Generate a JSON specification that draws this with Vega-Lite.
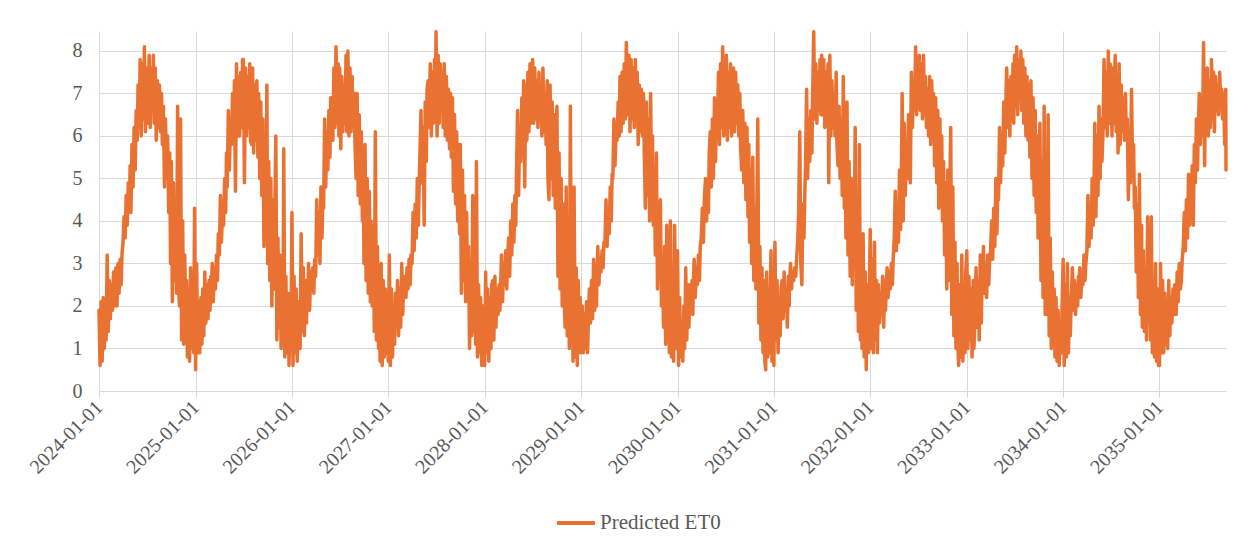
{
"$schema": "https://vega.github.io/schema/vega-lite/v6.json",
"width": 1127,
"height": 360,
"autosize": {"type": "none"},
"padding": {"left": 99, "top": 31, "right": 32, "bottom": 153},
"background": "white",
"config": {"view": {"stroke": null}, "font": "Liberation Serif", "axis": {"labelFont": "Liberation Serif"}, "legend": {"labelFont": "Liberation Serif"}},
"data": {"values": [
{"d":"2024-01-01","v":1.9},{"d":"2024-01-05","v":0.6},{"d":"2024-01-09","v":2.1},{"d":"2024-01-13","v":0.7},{"d":"2024-01-17","v":2.2},{"d":"2024-01-21","v":1.0},{"d":"2024-01-25","v":2.0},{"d":"2024-01-28","v":1.2},
{"d":"2024-02-01","v":3.2},{"d":"2024-02-05","v":1.4},{"d":"2024-02-09","v":2.6},{"d":"2024-02-13","v":1.7},{"d":"2024-02-17","v":2.5},{"d":"2024-02-21","v":1.9},{"d":"2024-02-25","v":2.8},{"d":"2024-02-28","v":2.0},
{"d":"2024-03-01","v":2.1},{"d":"2024-03-05","v":2.9},{"d":"2024-03-09","v":2.0},{"d":"2024-03-13","v":3.0},{"d":"2024-03-17","v":2.3},{"d":"2024-03-21","v":3.1},{"d":"2024-03-25","v":2.5},{"d":"2024-03-28","v":3.2},
{"d":"2024-04-01","v":3.5},{"d":"2024-04-05","v":4.1},{"d":"2024-04-09","v":3.6},{"d":"2024-04-13","v":4.6},{"d":"2024-04-17","v":3.9},{"d":"2024-04-21","v":4.9},{"d":"2024-04-25","v":4.2},{"d":"2024-04-28","v":5.3},
{"d":"2024-05-01","v":4.2},{"d":"2024-05-05","v":5.8},{"d":"2024-05-09","v":4.8},{"d":"2024-05-13","v":6.2},{"d":"2024-05-17","v":5.2},{"d":"2024-05-21","v":6.6},{"d":"2024-05-25","v":5.9},{"d":"2024-05-28","v":7.2},
{"d":"2024-06-01","v":6.2},{"d":"2024-06-05","v":7.8},{"d":"2024-06-09","v":6.0},{"d":"2024-06-13","v":7.7},{"d":"2024-06-17","v":6.4},{"d":"2024-06-21","v":8.1},{"d":"2024-06-25","v":6.1},{"d":"2024-06-28","v":7.6},
{"d":"2024-07-01","v":7.5},{"d":"2024-07-05","v":6.3},{"d":"2024-07-09","v":7.9},{"d":"2024-07-13","v":6.2},{"d":"2024-07-17","v":7.6},{"d":"2024-07-21","v":6.6},{"d":"2024-07-25","v":7.9},{"d":"2024-07-28","v":6.3},
{"d":"2024-08-01","v":7.6},{"d":"2024-08-05","v":5.9},{"d":"2024-08-09","v":7.3},{"d":"2024-08-13","v":6.2},{"d":"2024-08-17","v":7.2},{"d":"2024-08-21","v":6.1},{"d":"2024-08-25","v":7.0},{"d":"2024-08-28","v":5.8},
{"d":"2024-09-01","v":6.7},{"d":"2024-09-05","v":4.8},{"d":"2024-09-09","v":6.4},{"d":"2024-09-13","v":5.0},{"d":"2024-09-17","v":6.0},{"d":"2024-09-21","v":4.2},{"d":"2024-09-25","v":5.6},{"d":"2024-09-28","v":3.0},
{"d":"2024-10-01","v":5.4},{"d":"2024-10-05","v":2.1},{"d":"2024-10-09","v":4.9},{"d":"2024-10-13","v":2.6},{"d":"2024-10-17","v":4.3},{"d":"2024-10-21","v":2.3},{"d":"2024-10-25","v":6.7},{"d":"2024-10-28","v":2.5},
{"d":"2024-11-01","v":2.0},{"d":"2024-11-05","v":6.4},{"d":"2024-11-09","v":1.2},{"d":"2024-11-13","v":4.0},{"d":"2024-11-17","v":1.1},{"d":"2024-11-21","v":3.2},{"d":"2024-11-25","v":1.4},{"d":"2024-11-28","v":2.6},
{"d":"2024-12-01","v":0.8},{"d":"2024-12-05","v":2.4},{"d":"2024-12-09","v":0.7},{"d":"2024-12-13","v":2.9},{"d":"2024-12-17","v":1.0},{"d":"2024-12-21","v":2.2},{"d":"2024-12-25","v":0.9},{"d":"2024-12-28","v":4.3},
{"d":"2025-01-01","v":0.5},{"d":"2025-01-05","v":3.0},{"d":"2025-01-09","v":0.9},{"d":"2025-01-13","v":2.1},{"d":"2025-01-17","v":0.9},{"d":"2025-01-21","v":2.2},{"d":"2025-01-25","v":1.1},{"d":"2025-01-28","v":2.4},
{"d":"2025-02-01","v":1.3},{"d":"2025-02-05","v":2.8},{"d":"2025-02-09","v":1.6},{"d":"2025-02-13","v":2.5},{"d":"2025-02-17","v":1.7},{"d":"2025-02-21","v":2.6},{"d":"2025-02-25","v":1.9},{"d":"2025-02-28","v":2.7},
{"d":"2025-03-01","v":2.2},{"d":"2025-03-05","v":3.0},{"d":"2025-03-09","v":2.1},{"d":"2025-03-13","v":2.9},{"d":"2025-03-17","v":2.4},{"d":"2025-03-21","v":3.2},{"d":"2025-03-25","v":2.6},{"d":"2025-03-28","v":3.7},
{"d":"2025-04-01","v":3.2},{"d":"2025-04-05","v":4.6},{"d":"2025-04-09","v":3.5},{"d":"2025-04-13","v":4.3},{"d":"2025-04-17","v":3.9},{"d":"2025-04-21","v":5.0},{"d":"2025-04-25","v":4.2},{"d":"2025-04-28","v":5.6},
{"d":"2025-05-01","v":4.8},{"d":"2025-05-05","v":6.6},{"d":"2025-05-09","v":5.2},{"d":"2025-05-13","v":6.3},{"d":"2025-05-17","v":5.8},{"d":"2025-05-21","v":7.0},{"d":"2025-05-25","v":5.9},{"d":"2025-05-28","v":7.3},
{"d":"2025-06-01","v":4.7},{"d":"2025-06-05","v":7.7},{"d":"2025-06-09","v":6.0},{"d":"2025-06-13","v":7.4},{"d":"2025-06-17","v":6.0},{"d":"2025-06-21","v":7.5},{"d":"2025-06-25","v":6.2},{"d":"2025-06-28","v":7.8},
{"d":"2025-07-01","v":7.8},{"d":"2025-07-05","v":4.9},{"d":"2025-07-09","v":7.6},{"d":"2025-07-13","v":6.0},{"d":"2025-07-17","v":7.4},{"d":"2025-07-21","v":6.2},{"d":"2025-07-25","v":7.7},{"d":"2025-07-28","v":5.9},
{"d":"2025-08-01","v":5.8},{"d":"2025-08-05","v":7.6},{"d":"2025-08-09","v":5.6},{"d":"2025-08-13","v":7.2},{"d":"2025-08-17","v":5.9},{"d":"2025-08-21","v":7.3},{"d":"2025-08-25","v":5.5},{"d":"2025-08-28","v":7.0},
{"d":"2025-09-01","v":5.0},{"d":"2025-09-05","v":6.8},{"d":"2025-09-09","v":4.6},{"d":"2025-09-13","v":6.4},{"d":"2025-09-17","v":3.4},{"d":"2025-09-21","v":6.0},{"d":"2025-09-25","v":4.2},{"d":"2025-09-28","v":7.2},
{"d":"2025-10-01","v":3.0},{"d":"2025-10-05","v":5.4},{"d":"2025-10-09","v":2.6},{"d":"2025-10-13","v":5.0},{"d":"2025-10-17","v":2.0},{"d":"2025-10-21","v":4.5},{"d":"2025-10-25","v":2.4},{"d":"2025-10-28","v":4.1},
{"d":"2025-11-01","v":6.0},{"d":"2025-11-05","v":1.2},{"d":"2025-11-09","v":3.6},{"d":"2025-11-13","v":1.5},{"d":"2025-11-17","v":3.2},{"d":"2025-11-21","v":1.0},{"d":"2025-11-25","v":2.8},{"d":"2025-11-28","v":1.3},
{"d":"2025-12-01","v":5.7},{"d":"2025-12-05","v":0.8},{"d":"2025-12-09","v":2.7},{"d":"2025-12-13","v":0.9},{"d":"2025-12-17","v":2.3},{"d":"2025-12-21","v":0.6},{"d":"2025-12-25","v":2.0},{"d":"2025-12-28","v":1.0},
{"d":"2026-01-01","v":4.2},{"d":"2026-01-05","v":0.6},{"d":"2026-01-09","v":2.7},{"d":"2026-01-13","v":0.9},{"d":"2026-01-17","v":2.4},{"d":"2026-01-21","v":0.7},{"d":"2026-01-25","v":2.1},{"d":"2026-01-28","v":1.0},
{"d":"2026-02-01","v":1.0},{"d":"2026-02-05","v":3.7},{"d":"2026-02-09","v":1.4},{"d":"2026-02-13","v":2.9},{"d":"2026-02-17","v":1.3},{"d":"2026-02-21","v":2.6},{"d":"2026-02-25","v":1.6},{"d":"2026-02-28","v":2.5},
{"d":"2026-03-01","v":2.0},{"d":"2026-03-05","v":3.0},{"d":"2026-03-09","v":1.9},{"d":"2026-03-13","v":2.8},{"d":"2026-03-17","v":2.4},{"d":"2026-03-21","v":2.9},{"d":"2026-03-25","v":2.3},{"d":"2026-03-28","v":3.1},
{"d":"2026-04-01","v":2.7},{"d":"2026-04-05","v":4.5},{"d":"2026-04-09","v":3.2},{"d":"2026-04-13","v":4.2},{"d":"2026-04-17","v":3.0},{"d":"2026-04-21","v":4.8},{"d":"2026-04-25","v":3.6},{"d":"2026-04-28","v":4.6},
{"d":"2026-05-01","v":4.3},{"d":"2026-05-05","v":6.4},{"d":"2026-05-09","v":4.8},{"d":"2026-05-13","v":6.1},{"d":"2026-05-17","v":5.2},{"d":"2026-05-21","v":6.6},{"d":"2026-05-25","v":5.5},{"d":"2026-05-28","v":6.9},
{"d":"2026-06-01","v":6.9},{"d":"2026-06-05","v":5.9},{"d":"2026-06-09","v":7.6},{"d":"2026-06-13","v":6.2},{"d":"2026-06-17","v":8.1},{"d":"2026-06-21","v":6.3},{"d":"2026-06-25","v":7.7},{"d":"2026-06-28","v":6.0},
{"d":"2026-07-01","v":7.6},{"d":"2026-07-05","v":5.7},{"d":"2026-07-09","v":7.4},{"d":"2026-07-13","v":6.1},{"d":"2026-07-17","v":7.2},{"d":"2026-07-21","v":6.3},{"d":"2026-07-25","v":7.9},{"d":"2026-07-28","v":6.1},
{"d":"2026-08-01","v":8.0},{"d":"2026-08-05","v":6.0},{"d":"2026-08-09","v":7.6},{"d":"2026-08-13","v":6.1},{"d":"2026-08-17","v":7.4},{"d":"2026-08-21","v":6.2},{"d":"2026-08-25","v":7.0},{"d":"2026-08-28","v":5.8},
{"d":"2026-09-01","v":5.0},{"d":"2026-09-05","v":7.0},{"d":"2026-09-09","v":4.6},{"d":"2026-09-13","v":6.5},{"d":"2026-09-17","v":4.4},{"d":"2026-09-21","v":6.1},{"d":"2026-09-25","v":4.0},{"d":"2026-09-28","v":5.6},
{"d":"2026-10-01","v":3.0},{"d":"2026-10-05","v":5.8},{"d":"2026-10-09","v":2.6},{"d":"2026-10-13","v":5.0},{"d":"2026-10-17","v":2.3},{"d":"2026-10-21","v":4.7},{"d":"2026-10-25","v":2.1},{"d":"2026-10-28","v":4.0},
{"d":"2026-11-01","v":2.0},{"d":"2026-11-05","v":3.9},{"d":"2026-11-09","v":1.4},{"d":"2026-11-13","v":6.1},{"d":"2026-11-17","v":1.2},{"d":"2026-11-21","v":3.4},{"d":"2026-11-25","v":1.0},{"d":"2026-11-28","v":2.8},
{"d":"2026-12-01","v":0.7},{"d":"2026-12-05","v":3.0},{"d":"2026-12-09","v":0.6},{"d":"2026-12-13","v":2.6},{"d":"2026-12-17","v":0.8},{"d":"2026-12-21","v":2.4},{"d":"2026-12-25","v":0.9},{"d":"2026-12-28","v":2.0},
{"d":"2027-01-01","v":0.7},{"d":"2027-01-05","v":3.2},{"d":"2027-01-09","v":0.6},{"d":"2027-01-13","v":2.4},{"d":"2027-01-17","v":0.8},{"d":"2027-01-21","v":2.0},{"d":"2027-01-25","v":1.1},{"d":"2027-01-28","v":2.3},
{"d":"2027-02-01","v":1.6},{"d":"2027-02-05","v":2.6},{"d":"2027-02-09","v":1.3},{"d":"2027-02-13","v":2.4},{"d":"2027-02-17","v":1.5},{"d":"2027-02-21","v":3.0},{"d":"2027-02-25","v":1.8},{"d":"2027-02-28","v":2.6},
{"d":"2027-03-01","v":2.3},{"d":"2027-03-05","v":2.7},{"d":"2027-03-09","v":2.2},{"d":"2027-03-13","v":2.9},{"d":"2027-03-17","v":2.4},{"d":"2027-03-21","v":3.1},{"d":"2027-03-25","v":2.5},{"d":"2027-03-28","v":3.2},
{"d":"2027-04-01","v":3.0},{"d":"2027-04-05","v":4.2},{"d":"2027-04-09","v":3.3},{"d":"2027-04-13","v":4.4},{"d":"2027-04-17","v":3.6},{"d":"2027-04-21","v":5.0},{"d":"2027-04-25","v":3.9},{"d":"2027-04-28","v":4.8},
{"d":"2027-05-01","v":5.6},{"d":"2027-05-05","v":6.6},{"d":"2027-05-09","v":4.9},{"d":"2027-05-13","v":6.2},{"d":"2027-05-17","v":3.9},{"d":"2027-05-21","v":6.8},{"d":"2027-05-25","v":5.4},{"d":"2027-05-28","v":7.1},
{"d":"2027-06-01","v":7.3},{"d":"2027-06-05","v":6.2},{"d":"2027-06-09","v":7.7},{"d":"2027-06-13","v":6.0},{"d":"2027-06-17","v":7.5},{"d":"2027-06-21","v":6.3},{"d":"2027-06-25","v":7.8},{"d":"2027-06-28","v":6.4},
{"d":"2027-07-01","v":8.45},{"d":"2027-07-05","v":6.0},{"d":"2027-07-09","v":7.9},{"d":"2027-07-13","v":6.3},{"d":"2027-07-17","v":7.7},{"d":"2027-07-21","v":6.6},{"d":"2027-07-25","v":7.5},{"d":"2027-07-28","v":6.2},
{"d":"2027-08-01","v":7.7},{"d":"2027-08-05","v":6.0},{"d":"2027-08-09","v":7.4},{"d":"2027-08-13","v":5.9},{"d":"2027-08-17","v":7.1},{"d":"2027-08-21","v":5.7},{"d":"2027-08-25","v":7.0},{"d":"2027-08-28","v":5.5},
{"d":"2027-09-01","v":6.9},{"d":"2027-09-05","v":4.7},{"d":"2027-09-09","v":6.5},{"d":"2027-09-13","v":4.4},{"d":"2027-09-17","v":6.1},{"d":"2027-09-21","v":4.0},{"d":"2027-09-25","v":5.8},{"d":"2027-09-28","v":3.7},
{"d":"2027-10-01","v":5.8},{"d":"2027-10-05","v":2.3},{"d":"2027-10-09","v":5.2},{"d":"2027-10-13","v":2.6},{"d":"2027-10-17","v":4.6},{"d":"2027-10-21","v":2.1},{"d":"2027-10-25","v":4.2},{"d":"2027-10-28","v":2.4},
{"d":"2027-11-01","v":3.4},{"d":"2027-11-05","v":1.0},{"d":"2027-11-09","v":3.0},{"d":"2027-11-13","v":1.3},{"d":"2027-11-17","v":4.6},{"d":"2027-11-21","v":1.4},{"d":"2027-11-25","v":2.8},{"d":"2027-11-28","v":1.1},
{"d":"2027-12-01","v":5.4},{"d":"2027-12-05","v":0.8},{"d":"2027-12-09","v":2.5},{"d":"2027-12-13","v":0.9},{"d":"2027-12-17","v":2.2},{"d":"2027-12-21","v":0.6},{"d":"2027-12-25","v":2.0},{"d":"2027-12-28","v":0.8},
{"d":"2028-01-01","v":0.6},{"d":"2028-01-05","v":2.8},{"d":"2028-01-09","v":0.9},{"d":"2028-01-13","v":2.4},{"d":"2028-01-17","v":0.7},{"d":"2028-01-21","v":2.2},{"d":"2028-01-25","v":1.0},{"d":"2028-01-28","v":2.5},
{"d":"2028-02-01","v":2.6},{"d":"2028-02-05","v":1.2},{"d":"2028-02-09","v":2.7},{"d":"2028-02-13","v":1.5},{"d":"2028-02-17","v":2.4},{"d":"2028-02-21","v":1.8},{"d":"2028-02-25","v":2.5},{"d":"2028-02-28","v":1.9},
{"d":"2028-03-01","v":2.3},{"d":"2028-03-05","v":3.2},{"d":"2028-03-09","v":2.1},{"d":"2028-03-13","v":3.0},{"d":"2028-03-17","v":2.5},{"d":"2028-03-21","v":3.3},{"d":"2028-03-25","v":2.4},{"d":"2028-03-28","v":3.1},
{"d":"2028-04-01","v":3.6},{"d":"2028-04-05","v":2.7},{"d":"2028-04-09","v":4.0},{"d":"2028-04-13","v":3.2},{"d":"2028-04-17","v":4.4},{"d":"2028-04-21","v":3.5},{"d":"2028-04-25","v":4.6},{"d":"2028-04-28","v":3.9},
{"d":"2028-05-01","v":5.2},{"d":"2028-05-05","v":6.6},{"d":"2028-05-09","v":4.6},{"d":"2028-05-13","v":6.2},{"d":"2028-05-17","v":5.4},{"d":"2028-05-21","v":6.9},{"d":"2028-05-25","v":5.8},{"d":"2028-05-28","v":7.3},
{"d":"2028-06-01","v":4.8},{"d":"2028-06-05","v":7.2},{"d":"2028-06-09","v":5.9},{"d":"2028-06-13","v":7.5},{"d":"2028-06-17","v":6.1},{"d":"2028-06-21","v":7.7},{"d":"2028-06-25","v":6.3},{"d":"2028-06-28","v":7.4},
{"d":"2028-07-01","v":7.8},{"d":"2028-07-05","v":6.3},{"d":"2028-07-09","v":7.6},{"d":"2028-07-13","v":6.4},{"d":"2028-07-17","v":7.3},{"d":"2028-07-21","v":6.2},{"d":"2028-07-25","v":7.5},{"d":"2028-07-28","v":6.4},
{"d":"2028-08-01","v":7.2},{"d":"2028-08-05","v":6.0},{"d":"2028-08-09","v":7.6},{"d":"2028-08-13","v":6.1},{"d":"2028-08-17","v":7.0},{"d":"2028-08-21","v":5.8},{"d":"2028-08-25","v":7.3},{"d":"2028-08-28","v":5.0},
{"d":"2028-09-01","v":4.5},{"d":"2028-09-05","v":7.2},{"d":"2028-09-09","v":5.0},{"d":"2028-09-13","v":6.8},{"d":"2028-09-17","v":4.6},{"d":"2028-09-21","v":6.5},{"d":"2028-09-25","v":4.3},{"d":"2028-09-28","v":6.0},
{"d":"2028-10-01","v":6.7},{"d":"2028-10-05","v":2.7},{"d":"2028-10-09","v":5.6},{"d":"2028-10-13","v":2.4},{"d":"2028-10-17","v":5.0},{"d":"2028-10-21","v":2.0},{"d":"2028-10-25","v":4.4},{"d":"2028-10-28","v":2.2},
{"d":"2028-11-01","v":1.5},{"d":"2028-11-05","v":4.8},{"d":"2028-11-09","v":1.3},{"d":"2028-11-13","v":3.9},{"d":"2028-11-17","v":1.0},{"d":"2028-11-21","v":6.7},{"d":"2028-11-25","v":1.2},{"d":"2028-11-28","v":3.5},
{"d":"2028-12-01","v":0.7},{"d":"2028-12-05","v":4.8},{"d":"2028-12-09","v":0.8},{"d":"2028-12-13","v":2.9},{"d":"2028-12-17","v":0.6},{"d":"2028-12-21","v":2.6},{"d":"2028-12-25","v":0.9},{"d":"2028-12-28","v":2.2},
{"d":"2029-01-01","v":0.9},{"d":"2029-01-05","v":2.0},{"d":"2029-01-09","v":0.9},{"d":"2029-01-13","v":1.8},{"d":"2029-01-17","v":1.0},{"d":"2029-01-21","v":2.1},{"d":"2029-01-25","v":0.9},{"d":"2029-01-28","v":1.6},
{"d":"2029-02-01","v":2.4},{"d":"2029-02-05","v":1.6},{"d":"2029-02-09","v":2.6},{"d":"2029-02-13","v":1.7},{"d":"2029-02-17","v":3.1},{"d":"2029-02-21","v":1.9},{"d":"2029-02-25","v":2.7},{"d":"2029-02-28","v":2.0},
{"d":"2029-03-01","v":2.6},{"d":"2029-03-05","v":3.4},{"d":"2029-03-09","v":2.5},{"d":"2029-03-13","v":3.1},{"d":"2029-03-17","v":2.8},{"d":"2029-03-21","v":3.3},{"d":"2029-03-25","v":2.9},{"d":"2029-03-28","v":3.5},
{"d":"2029-04-01","v":3.5},{"d":"2029-04-05","v":4.5},{"d":"2029-04-09","v":3.4},{"d":"2029-04-13","v":4.2},{"d":"2029-04-17","v":3.7},{"d":"2029-04-21","v":4.8},{"d":"2029-04-25","v":4.0},{"d":"2029-04-28","v":5.1},
{"d":"2029-05-01","v":5.0},{"d":"2029-05-05","v":6.4},{"d":"2029-05-09","v":5.3},{"d":"2029-05-13","v":6.1},{"d":"2029-05-17","v":5.9},{"d":"2029-05-21","v":6.8},{"d":"2029-05-25","v":6.0},{"d":"2029-05-28","v":7.4},
{"d":"2029-06-01","v":6.1},{"d":"2029-06-05","v":7.5},{"d":"2029-06-09","v":6.3},{"d":"2029-06-13","v":7.7},{"d":"2029-06-17","v":6.4},{"d":"2029-06-21","v":8.2},{"d":"2029-06-25","v":6.5},{"d":"2029-06-28","v":7.6},
{"d":"2029-07-01","v":7.9},{"d":"2029-07-05","v":6.1},{"d":"2029-07-09","v":7.8},{"d":"2029-07-13","v":6.4},{"d":"2029-07-17","v":7.6},{"d":"2029-07-21","v":6.2},{"d":"2029-07-25","v":7.8},{"d":"2029-07-28","v":6.4},
{"d":"2029-08-01","v":7.5},{"d":"2029-08-05","v":5.8},{"d":"2029-08-09","v":7.2},{"d":"2029-08-13","v":6.1},{"d":"2029-08-17","v":7.1},{"d":"2029-08-21","v":6.0},{"d":"2029-08-25","v":7.0},{"d":"2029-08-28","v":5.6},
{"d":"2029-09-01","v":4.3},{"d":"2029-09-05","v":6.8},{"d":"2029-09-09","v":4.6},{"d":"2029-09-13","v":6.4},{"d":"2029-09-17","v":4.0},{"d":"2029-09-21","v":7.0},{"d":"2029-09-25","v":4.4},{"d":"2029-09-28","v":6.0},
{"d":"2029-10-01","v":3.9},{"d":"2029-10-05","v":5.0},{"d":"2029-10-09","v":3.2},{"d":"2029-10-13","v":5.6},{"d":"2029-10-17","v":2.4},{"d":"2029-10-21","v":4.1},{"d":"2029-10-25","v":2.7},{"d":"2029-10-28","v":4.5},
{"d":"2029-11-01","v":2.0},{"d":"2029-11-05","v":3.0},{"d":"2029-11-09","v":1.5},{"d":"2029-11-13","v":3.4},{"d":"2029-11-17","v":1.1},{"d":"2029-11-21","v":3.9},{"d":"2029-11-25","v":1.3},{"d":"2029-11-28","v":2.7},
{"d":"2029-12-01","v":0.9},{"d":"2029-12-05","v":4.0},{"d":"2029-12-09","v":0.8},{"d":"2029-12-13","v":2.5},{"d":"2029-12-17","v":0.7},{"d":"2029-12-21","v":3.9},{"d":"2029-12-25","v":1.0},{"d":"2029-12-28","v":2.2},
{"d":"2030-01-01","v":3.3},{"d":"2030-01-05","v":0.6},{"d":"2030-01-09","v":2.2},{"d":"2030-01-13","v":0.8},{"d":"2030-01-17","v":1.4},{"d":"2030-01-21","v":0.7},{"d":"2030-01-25","v":2.0},{"d":"2030-01-28","v":1.0},
{"d":"2030-02-01","v":2.9},{"d":"2030-02-05","v":1.2},{"d":"2030-02-09","v":2.5},{"d":"2030-02-13","v":1.5},{"d":"2030-02-17","v":2.5},{"d":"2030-02-21","v":1.9},{"d":"2030-02-25","v":2.6},{"d":"2030-02-28","v":1.8},
{"d":"2030-03-01","v":2.3},{"d":"2030-03-05","v":3.1},{"d":"2030-03-09","v":2.2},{"d":"2030-03-13","v":2.9},{"d":"2030-03-17","v":2.5},{"d":"2030-03-21","v":3.2},{"d":"2030-03-25","v":2.6},{"d":"2030-03-28","v":3.4},
{"d":"2030-04-01","v":3.6},{"d":"2030-04-05","v":4.3},{"d":"2030-04-09","v":3.5},{"d":"2030-04-13","v":4.6},{"d":"2030-04-17","v":5.0},{"d":"2030-04-21","v":4.0},{"d":"2030-04-25","v":4.7},{"d":"2030-04-28","v":4.2},
{"d":"2030-05-01","v":5.6},{"d":"2030-05-05","v":6.1},{"d":"2030-05-09","v":4.8},{"d":"2030-05-13","v":6.4},{"d":"2030-05-17","v":5.0},{"d":"2030-05-21","v":6.9},{"d":"2030-05-25","v":5.4},{"d":"2030-05-28","v":6.6},
{"d":"2030-06-01","v":6.0},{"d":"2030-06-05","v":7.5},{"d":"2030-06-09","v":5.8},{"d":"2030-06-13","v":7.7},{"d":"2030-06-17","v":6.2},{"d":"2030-06-21","v":8.1},{"d":"2030-06-25","v":6.0},{"d":"2030-06-28","v":7.6},
{"d":"2030-07-01","v":6.1},{"d":"2030-07-05","v":7.9},{"d":"2030-07-09","v":5.9},{"d":"2030-07-13","v":7.5},{"d":"2030-07-17","v":6.2},{"d":"2030-07-21","v":7.7},{"d":"2030-07-25","v":6.0},{"d":"2030-07-28","v":7.4},
{"d":"2030-08-01","v":7.6},{"d":"2030-08-05","v":6.1},{"d":"2030-08-09","v":7.5},{"d":"2030-08-13","v":6.3},{"d":"2030-08-17","v":7.2},{"d":"2030-08-21","v":6.0},{"d":"2030-08-25","v":7.0},{"d":"2030-08-28","v":5.7},
{"d":"2030-09-01","v":5.2},{"d":"2030-09-05","v":6.6},{"d":"2030-09-09","v":4.9},{"d":"2030-09-13","v":6.3},{"d":"2030-09-17","v":4.5},{"d":"2030-09-21","v":6.2},{"d":"2030-09-25","v":4.1},{"d":"2030-09-28","v":5.8},
{"d":"2030-10-01","v":3.5},{"d":"2030-10-05","v":5.2},{"d":"2030-10-09","v":3.0},{"d":"2030-10-13","v":5.5},{"d":"2030-10-17","v":2.6},{"d":"2030-10-21","v":4.3},{"d":"2030-10-25","v":2.4},{"d":"2030-10-28","v":4.0},
{"d":"2030-11-01","v":6.4},{"d":"2030-11-05","v":1.6},{"d":"2030-11-09","v":3.4},{"d":"2030-11-13","v":1.2},{"d":"2030-11-17","v":2.9},{"d":"2030-11-21","v":0.9},{"d":"2030-11-25","v":2.6},{"d":"2030-11-28","v":0.7},
{"d":"2030-12-01","v":0.5},{"d":"2030-12-05","v":2.8},{"d":"2030-12-09","v":0.8},{"d":"2030-12-13","v":2.4},{"d":"2030-12-17","v":0.9},{"d":"2030-12-21","v":3.3},{"d":"2030-12-25","v":0.7},{"d":"2030-12-28","v":2.6},
{"d":"2031-01-01","v":0.6},{"d":"2031-01-05","v":3.5},{"d":"2031-01-09","v":1.2},{"d":"2031-01-13","v":2.6},{"d":"2031-01-17","v":0.9},{"d":"2031-01-21","v":2.2},{"d":"2031-01-25","v":1.3},{"d":"2031-01-28","v":2.4},
{"d":"2031-02-01","v":2.6},{"d":"2031-02-05","v":1.7},{"d":"2031-02-09","v":2.8},{"d":"2031-02-13","v":1.9},{"d":"2031-02-17","v":2.4},{"d":"2031-02-21","v":1.5},{"d":"2031-02-25","v":2.7},{"d":"2031-02-28","v":2.0},
{"d":"2031-03-01","v":2.5},{"d":"2031-03-05","v":3.0},{"d":"2031-03-09","v":2.4},{"d":"2031-03-13","v":2.8},{"d":"2031-03-17","v":2.6},{"d":"2031-03-21","v":2.9},{"d":"2031-03-25","v":2.7},{"d":"2031-03-28","v":3.1},
{"d":"2031-04-01","v":3.5},{"d":"2031-04-05","v":4.2},{"d":"2031-04-09","v":6.1},{"d":"2031-04-13","v":3.0},{"d":"2031-04-17","v":2.5},{"d":"2031-04-21","v":4.4},{"d":"2031-04-25","v":3.6},{"d":"2031-04-28","v":4.6},
{"d":"2031-05-01","v":5.3},{"d":"2031-05-05","v":7.1},{"d":"2031-05-09","v":5.0},{"d":"2031-05-13","v":6.4},{"d":"2031-05-17","v":5.4},{"d":"2031-05-21","v":6.6},{"d":"2031-05-25","v":5.6},{"d":"2031-05-28","v":7.0},
{"d":"2031-06-01","v":8.45},{"d":"2031-06-05","v":6.4},{"d":"2031-06-09","v":7.7},{"d":"2031-06-13","v":6.3},{"d":"2031-06-17","v":7.5},{"d":"2031-06-21","v":6.6},{"d":"2031-06-25","v":7.8},{"d":"2031-06-28","v":6.5},
{"d":"2031-07-01","v":7.9},{"d":"2031-07-05","v":6.5},{"d":"2031-07-09","v":7.8},{"d":"2031-07-13","v":6.2},{"d":"2031-07-17","v":7.5},{"d":"2031-07-21","v":6.4},{"d":"2031-07-25","v":7.7},{"d":"2031-07-28","v":4.9},
{"d":"2031-08-01","v":7.9},{"d":"2031-08-05","v":6.0},{"d":"2031-08-09","v":7.3},{"d":"2031-08-13","v":6.2},{"d":"2031-08-17","v":6.6},{"d":"2031-08-21","v":6.0},{"d":"2031-08-25","v":7.5},{"d":"2031-08-28","v":5.8},
{"d":"2031-09-01","v":5.3},{"d":"2031-09-05","v":6.7},{"d":"2031-09-09","v":5.0},{"d":"2031-09-13","v":6.4},{"d":"2031-09-17","v":4.6},{"d":"2031-09-21","v":7.4},{"d":"2031-09-25","v":4.3},{"d":"2031-09-28","v":6.0},
{"d":"2031-10-01","v":3.6},{"d":"2031-10-05","v":6.8},{"d":"2031-10-09","v":3.2},{"d":"2031-10-13","v":5.4},{"d":"2031-10-17","v":2.7},{"d":"2031-10-21","v":5.0},{"d":"2031-10-25","v":2.5},{"d":"2031-10-28","v":4.4},
{"d":"2031-11-01","v":3.0},{"d":"2031-11-05","v":6.2},{"d":"2031-11-09","v":1.9},{"d":"2031-11-13","v":4.2},{"d":"2031-11-17","v":1.4},{"d":"2031-11-21","v":5.8},{"d":"2031-11-25","v":1.2},{"d":"2031-11-28","v":3.3},
{"d":"2031-12-01","v":1.0},{"d":"2031-12-05","v":3.7},{"d":"2031-12-09","v":0.8},{"d":"2031-12-13","v":2.8},{"d":"2031-12-17","v":0.5},{"d":"2031-12-21","v":2.5},{"d":"2031-12-25","v":0.9},{"d":"2031-12-28","v":2.1},
{"d":"2032-01-01","v":3.8},{"d":"2032-01-05","v":1.0},{"d":"2032-01-09","v":3.1},{"d":"2032-01-13","v":0.9},{"d":"2032-01-17","v":3.5},{"d":"2032-01-21","v":1.2},{"d":"2032-01-25","v":2.6},{"d":"2032-01-28","v":0.9},
{"d":"2032-02-01","v":2.5},{"d":"2032-02-05","v":1.6},{"d":"2032-02-09","v":2.3},{"d":"2032-02-13","v":1.8},{"d":"2032-02-17","v":2.7},{"d":"2032-02-21","v":1.5},{"d":"2032-02-25","v":2.6},{"d":"2032-02-28","v":1.9},
{"d":"2032-03-01","v":2.3},{"d":"2032-03-05","v":2.9},{"d":"2032-03-09","v":2.2},{"d":"2032-03-13","v":2.8},{"d":"2032-03-17","v":2.4},{"d":"2032-03-21","v":3.0},{"d":"2032-03-25","v":2.5},{"d":"2032-03-28","v":3.1},
{"d":"2032-04-01","v":3.6},{"d":"2032-04-05","v":4.7},{"d":"2032-04-09","v":3.3},{"d":"2032-04-13","v":4.3},{"d":"2032-04-17","v":3.5},{"d":"2032-04-21","v":5.2},{"d":"2032-04-25","v":3.8},{"d":"2032-04-28","v":4.9},
{"d":"2032-05-01","v":7.0},{"d":"2032-05-05","v":4.0},{"d":"2032-05-09","v":6.3},{"d":"2032-05-13","v":4.6},{"d":"2032-05-17","v":5.8},{"d":"2032-05-21","v":5.0},{"d":"2032-05-25","v":6.5},{"d":"2032-05-28","v":5.2},
{"d":"2032-06-01","v":4.9},{"d":"2032-06-05","v":7.5},{"d":"2032-06-09","v":6.2},{"d":"2032-06-13","v":7.3},{"d":"2032-06-17","v":6.6},{"d":"2032-06-21","v":8.1},{"d":"2032-06-25","v":6.5},{"d":"2032-06-28","v":7.7},
{"d":"2032-07-01","v":6.7},{"d":"2032-07-05","v":7.9},{"d":"2032-07-09","v":6.6},{"d":"2032-07-13","v":7.7},{"d":"2032-07-17","v":6.4},{"d":"2032-07-21","v":7.9},{"d":"2032-07-25","v":6.5},{"d":"2032-07-28","v":7.4},
{"d":"2032-08-01","v":6.2},{"d":"2032-08-05","v":7.1},{"d":"2032-08-09","v":6.0},{"d":"2032-08-13","v":7.4},{"d":"2032-08-17","v":5.8},{"d":"2032-08-21","v":7.3},{"d":"2032-08-25","v":5.9},{"d":"2032-08-28","v":7.0},
{"d":"2032-09-01","v":5.3},{"d":"2032-09-05","v":6.9},{"d":"2032-09-09","v":4.9},{"d":"2032-09-13","v":6.6},{"d":"2032-09-17","v":4.3},{"d":"2032-09-21","v":6.4},{"d":"2032-09-25","v":4.5},{"d":"2032-09-28","v":6.0},
{"d":"2032-10-01","v":4.0},{"d":"2032-10-05","v":5.4},{"d":"2032-10-09","v":3.2},{"d":"2032-10-13","v":4.9},{"d":"2032-10-17","v":2.4},{"d":"2032-10-21","v":5.2},{"d":"2032-10-25","v":2.6},{"d":"2032-10-28","v":4.4},
{"d":"2032-11-01","v":6.2},{"d":"2032-11-05","v":1.8},{"d":"2032-11-09","v":4.8},{"d":"2032-11-13","v":1.3},{"d":"2032-11-17","v":3.5},{"d":"2032-11-21","v":1.0},{"d":"2032-11-25","v":3.0},{"d":"2032-11-28","v":1.2},
{"d":"2032-12-01","v":0.6},{"d":"2032-12-05","v":2.5},{"d":"2032-12-09","v":0.8},{"d":"2032-12-13","v":3.2},{"d":"2032-12-17","v":0.7},{"d":"2032-12-21","v":2.2},{"d":"2032-12-25","v":0.9},{"d":"2032-12-28","v":2.8},
{"d":"2033-01-01","v":3.3},{"d":"2033-01-05","v":1.0},{"d":"2033-01-09","v":2.7},{"d":"2033-01-13","v":1.2},{"d":"2033-01-17","v":2.4},{"d":"2033-01-21","v":0.8},{"d":"2033-01-25","v":2.6},{"d":"2033-01-28","v":1.0},
{"d":"2033-02-01","v":1.8},{"d":"2033-02-05","v":2.9},{"d":"2033-02-09","v":1.5},{"d":"2033-02-13","v":2.6},{"d":"2033-02-17","v":1.2},{"d":"2033-02-21","v":3.2},{"d":"2033-02-25","v":1.6},{"d":"2033-02-28","v":2.8},
{"d":"2033-03-01","v":2.4},{"d":"2033-03-05","v":3.4},{"d":"2033-03-09","v":2.3},{"d":"2033-03-13","v":3.0},{"d":"2033-03-17","v":2.2},{"d":"2033-03-21","v":3.2},{"d":"2033-03-25","v":2.5},{"d":"2033-03-28","v":3.0},
{"d":"2033-04-01","v":3.3},{"d":"2033-04-05","v":4.0},{"d":"2033-04-09","v":3.1},{"d":"2033-04-13","v":4.3},{"d":"2033-04-17","v":3.4},{"d":"2033-04-21","v":5.0},{"d":"2033-04-25","v":3.7},{"d":"2033-04-28","v":4.6},
{"d":"2033-05-01","v":4.5},{"d":"2033-05-05","v":6.2},{"d":"2033-05-09","v":4.9},{"d":"2033-05-13","v":6.0},{"d":"2033-05-17","v":5.3},{"d":"2033-05-21","v":6.8},{"d":"2033-05-25","v":5.6},{"d":"2033-05-28","v":6.5},
{"d":"2033-06-01","v":7.6},{"d":"2033-06-05","v":6.2},{"d":"2033-06-09","v":7.3},{"d":"2033-06-13","v":6.0},{"d":"2033-06-17","v":7.4},{"d":"2033-06-21","v":6.4},{"d":"2033-06-25","v":7.7},{"d":"2033-06-28","v":6.3},
{"d":"2033-07-01","v":7.9},{"d":"2033-07-05","v":6.7},{"d":"2033-07-09","v":8.1},{"d":"2033-07-13","v":6.5},{"d":"2033-07-17","v":7.8},{"d":"2033-07-21","v":6.9},{"d":"2033-07-25","v":8.0},{"d":"2033-07-28","v":6.6},
{"d":"2033-08-01","v":7.8},{"d":"2033-08-05","v":6.3},{"d":"2033-08-09","v":7.6},{"d":"2033-08-13","v":6.0},{"d":"2033-08-17","v":7.4},{"d":"2033-08-21","v":5.9},{"d":"2033-08-25","v":7.2},{"d":"2033-08-28","v":5.5},
{"d":"2033-09-01","v":7.3},{"d":"2033-09-05","v":5.0},{"d":"2033-09-09","v":6.9},{"d":"2033-09-13","v":4.6},{"d":"2033-09-17","v":6.6},{"d":"2033-09-21","v":4.2},{"d":"2033-09-25","v":6.0},{"d":"2033-09-28","v":3.6},
{"d":"2033-10-01","v":5.0},{"d":"2033-10-05","v":6.3},{"d":"2033-10-09","v":2.6},{"d":"2033-10-13","v":5.4},{"d":"2033-10-17","v":2.2},{"d":"2033-10-21","v":6.7},{"d":"2033-10-25","v":1.8},{"d":"2033-10-28","v":4.2},
{"d":"2033-11-01","v":1.8},{"d":"2033-11-05","v":6.5},{"d":"2033-11-09","v":1.3},{"d":"2033-11-13","v":3.6},{"d":"2033-11-17","v":1.0},{"d":"2033-11-21","v":2.8},{"d":"2033-11-25","v":1.2},{"d":"2033-11-28","v":2.4},
{"d":"2033-12-01","v":0.8},{"d":"2033-12-05","v":2.2},{"d":"2033-12-09","v":0.7},{"d":"2033-12-13","v":1.9},{"d":"2033-12-17","v":0.6},{"d":"2033-12-21","v":1.5},{"d":"2033-12-25","v":0.9},{"d":"2033-12-28","v":2.0},
{"d":"2034-01-01","v":3.1},{"d":"2034-01-05","v":0.6},{"d":"2034-01-09","v":2.5},{"d":"2034-01-13","v":0.8},{"d":"2034-01-17","v":3.0},{"d":"2034-01-21","v":0.9},{"d":"2034-01-25","v":2.2},{"d":"2034-01-28","v":1.3},
{"d":"2034-02-01","v":2.2},{"d":"2034-02-05","v":2.9},{"d":"2034-02-09","v":1.9},{"d":"2034-02-13","v":2.6},{"d":"2034-02-17","v":1.8},{"d":"2034-02-21","v":2.5},{"d":"2034-02-25","v":2.0},{"d":"2034-02-28","v":2.7},
{"d":"2034-03-01","v":2.3},{"d":"2034-03-05","v":2.9},{"d":"2034-03-09","v":2.2},{"d":"2034-03-13","v":2.7},{"d":"2034-03-17","v":2.5},{"d":"2034-03-21","v":3.2},{"d":"2034-03-25","v":2.6},{"d":"2034-03-28","v":3.0},
{"d":"2034-04-01","v":3.3},{"d":"2034-04-05","v":4.6},{"d":"2034-04-09","v":3.4},{"d":"2034-04-13","v":4.3},{"d":"2034-04-17","v":3.6},{"d":"2034-04-21","v":5.0},{"d":"2034-04-25","v":3.9},{"d":"2034-04-28","v":4.8},
{"d":"2034-05-01","v":6.3},{"d":"2034-05-05","v":4.1},{"d":"2034-05-09","v":6.0},{"d":"2034-05-13","v":4.6},{"d":"2034-05-17","v":6.7},{"d":"2034-05-21","v":5.0},{"d":"2034-05-25","v":6.4},{"d":"2034-05-28","v":5.4},
{"d":"2034-06-01","v":6.1},{"d":"2034-06-05","v":7.8},{"d":"2034-06-09","v":6.2},{"d":"2034-06-13","v":7.5},{"d":"2034-06-17","v":6.0},{"d":"2034-06-21","v":8.0},{"d":"2034-06-25","v":6.3},{"d":"2034-06-28","v":7.7},
{"d":"2034-07-01","v":7.3},{"d":"2034-07-05","v":6.0},{"d":"2034-07-09","v":7.6},{"d":"2034-07-13","v":6.3},{"d":"2034-07-17","v":7.9},{"d":"2034-07-21","v":6.1},{"d":"2034-07-25","v":7.4},{"d":"2034-07-28","v":5.6},
{"d":"2034-08-01","v":7.7},{"d":"2034-08-05","v":5.8},{"d":"2034-08-09","v":7.2},{"d":"2034-08-13","v":6.1},{"d":"2034-08-17","v":6.9},{"d":"2034-08-21","v":5.9},{"d":"2034-08-25","v":7.0},{"d":"2034-08-28","v":6.1},
{"d":"2034-09-01","v":6.4},{"d":"2034-09-05","v":4.5},{"d":"2034-09-09","v":6.1},{"d":"2034-09-13","v":4.9},{"d":"2034-09-17","v":7.1},{"d":"2034-09-21","v":5.2},{"d":"2034-09-25","v":5.8},{"d":"2034-09-28","v":4.3},
{"d":"2034-10-01","v":4.8},{"d":"2034-10-05","v":2.8},{"d":"2034-10-09","v":4.4},{"d":"2034-10-13","v":2.2},{"d":"2034-10-17","v":5.1},{"d":"2034-10-21","v":1.8},{"d":"2034-10-25","v":3.9},{"d":"2034-10-28","v":1.5},
{"d":"2034-11-01","v":3.3},{"d":"2034-11-05","v":1.4},{"d":"2034-11-09","v":2.9},{"d":"2034-11-13","v":1.2},{"d":"2034-11-17","v":4.1},{"d":"2034-11-21","v":1.6},{"d":"2034-11-25","v":3.0},{"d":"2034-11-28","v":1.2},
{"d":"2034-12-01","v":4.1},{"d":"2034-12-05","v":0.9},{"d":"2034-12-09","v":2.6},{"d":"2034-12-13","v":0.8},{"d":"2034-12-17","v":3.0},{"d":"2034-12-21","v":0.7},{"d":"2034-12-25","v":2.4},{"d":"2034-12-28","v":0.6},
{"d":"2035-01-01","v":0.6},{"d":"2035-01-05","v":3.0},{"d":"2035-01-09","v":0.9},{"d":"2035-01-13","v":2.6},{"d":"2035-01-17","v":0.9},{"d":"2035-01-21","v":2.3},{"d":"2035-01-25","v":1.1},{"d":"2035-01-28","v":2.1},
{"d":"2035-02-01","v":1.0},{"d":"2035-02-05","v":2.6},{"d":"2035-02-09","v":1.3},{"d":"2035-02-13","v":2.2},{"d":"2035-02-17","v":1.6},{"d":"2035-02-21","v":2.4},{"d":"2035-02-25","v":1.8},{"d":"2035-02-28","v":2.5},
{"d":"2035-03-01","v":2.5},{"d":"2035-03-05","v":1.8},{"d":"2035-03-09","v":2.8},{"d":"2035-03-13","v":2.1},{"d":"2035-03-17","v":3.0},{"d":"2035-03-21","v":2.4},{"d":"2035-03-25","v":2.6},{"d":"2035-03-28","v":3.1},
{"d":"2035-04-01","v":3.4},{"d":"2035-04-05","v":4.2},{"d":"2035-04-09","v":3.3},{"d":"2035-04-13","v":4.5},{"d":"2035-04-17","v":3.6},{"d":"2035-04-21","v":5.1},{"d":"2035-04-25","v":3.9},{"d":"2035-04-28","v":4.7},
{"d":"2035-05-01","v":4.2},{"d":"2035-05-05","v":5.3},{"d":"2035-05-09","v":3.9},{"d":"2035-05-13","v":5.8},{"d":"2035-05-17","v":4.9},{"d":"2035-05-21","v":6.4},{"d":"2035-05-25","v":5.2},{"d":"2035-05-28","v":6.2},
{"d":"2035-06-01","v":7.0},{"d":"2035-06-05","v":5.8},{"d":"2035-06-09","v":6.8},{"d":"2035-06-13","v":6.0},{"d":"2035-06-17","v":8.2},{"d":"2035-06-21","v":5.3},{"d":"2035-06-25","v":7.5},{"d":"2035-06-28","v":6.2},
{"d":"2035-07-01","v":7.6},{"d":"2035-07-05","v":6.0},{"d":"2035-07-09","v":7.3},{"d":"2035-07-13","v":6.2},{"d":"2035-07-17","v":7.8},{"d":"2035-07-21","v":6.4},{"d":"2035-07-25","v":7.5},{"d":"2035-07-28","v":6.1},
{"d":"2035-08-01","v":7.4},{"d":"2035-08-05","v":6.6},{"d":"2035-08-09","v":7.2},{"d":"2035-08-13","v":6.5},{"d":"2035-08-17","v":7.5},{"d":"2035-08-21","v":6.8},{"d":"2035-08-25","v":7.1},{"d":"2035-08-28","v":6.4},
{"d":"2035-09-01","v":7.0},{"d":"2035-09-05","v":5.8},{"d":"2035-09-09","v":7.1},{"d":"2035-09-10","v":5.2}
]},
"mark": {"type": "line", "strokeWidth": 3.5, "strokeJoin": "round", "strokeCap": "round"},
"encoding": {
  "x": {
    "field": "d", "type": "temporal",
    "scale": {"type": "utc", "domain": [{"year": 2024, "month": 1, "date": 1, "utc": true}, {"year": 2035, "month": 9, "date": 10, "utc": true}]},
    "axis": {
      "title": null,
      "values": [
        {"year": 2024, "month": 1, "date": 1, "utc": true},
        {"year": 2025, "month": 1, "date": 1, "utc": true},
        {"year": 2026, "month": 1, "date": 1, "utc": true},
        {"year": 2027, "month": 1, "date": 1, "utc": true},
        {"year": 2028, "month": 1, "date": 1, "utc": true},
        {"year": 2029, "month": 1, "date": 1, "utc": true},
        {"year": 2030, "month": 1, "date": 1, "utc": true},
        {"year": 2031, "month": 1, "date": 1, "utc": true},
        {"year": 2032, "month": 1, "date": 1, "utc": true},
        {"year": 2033, "month": 1, "date": 1, "utc": true},
        {"year": 2034, "month": 1, "date": 1, "utc": true},
        {"year": 2035, "month": 1, "date": 1, "utc": true}
      ],
      "format": "%Y-%m-%d",
      "labelAngle": -45,
      "labelAlign": "right",
      "labelBaseline": "middle",
      "labelPadding": 7,
      "labelFont": "Liberation Serif",
      "labelFontSize": 20,
      "labelColor": "#595959",
      "labelOverlap": false,
      "labelFlush": false,
      "grid": true,
      "gridColor": "#D9D9D9",
      "gridWidth": 1,
      "domain": false,
      "ticks": true,
      "tickSize": 6,
      "tickColor": "#D9D9D9",
      "tickWidth": 1
    }
  },
  "y": {
    "field": "v", "type": "quantitative",
    "scale": {"domain": [0, 8.47], "nice": false, "zero": true},
    "axis": {
      "title": null,
      "values": [0, 1, 2, 3, 4, 5, 6, 7, 8],
      "labelFont": "Liberation Serif",
      "labelFontSize": 20,
      "labelColor": "#595959",
      "labelPadding": 17,
      "grid": true,
      "gridColor": "#D9D9D9",
      "gridWidth": 1,
      "domain": false,
      "ticks": false
    }
  },
  "color": {
    "datum": "Predicted ET0", "type": "nominal",
    "scale": {"range": ["#E97132"]},
    "legend": {
      "title": null,
      "orient": "none",
      "legendX": 456,
      "legendY": 471,
      "symbolType": "stroke",
      "symbolSize": 1444,
      "symbolStrokeWidth": 4,
      "labelFont": "Liberation Serif",
      "labelFontSize": 21,
      "labelColor": "#595959",
      "labelOffset": 3
    }
  }
}
}
